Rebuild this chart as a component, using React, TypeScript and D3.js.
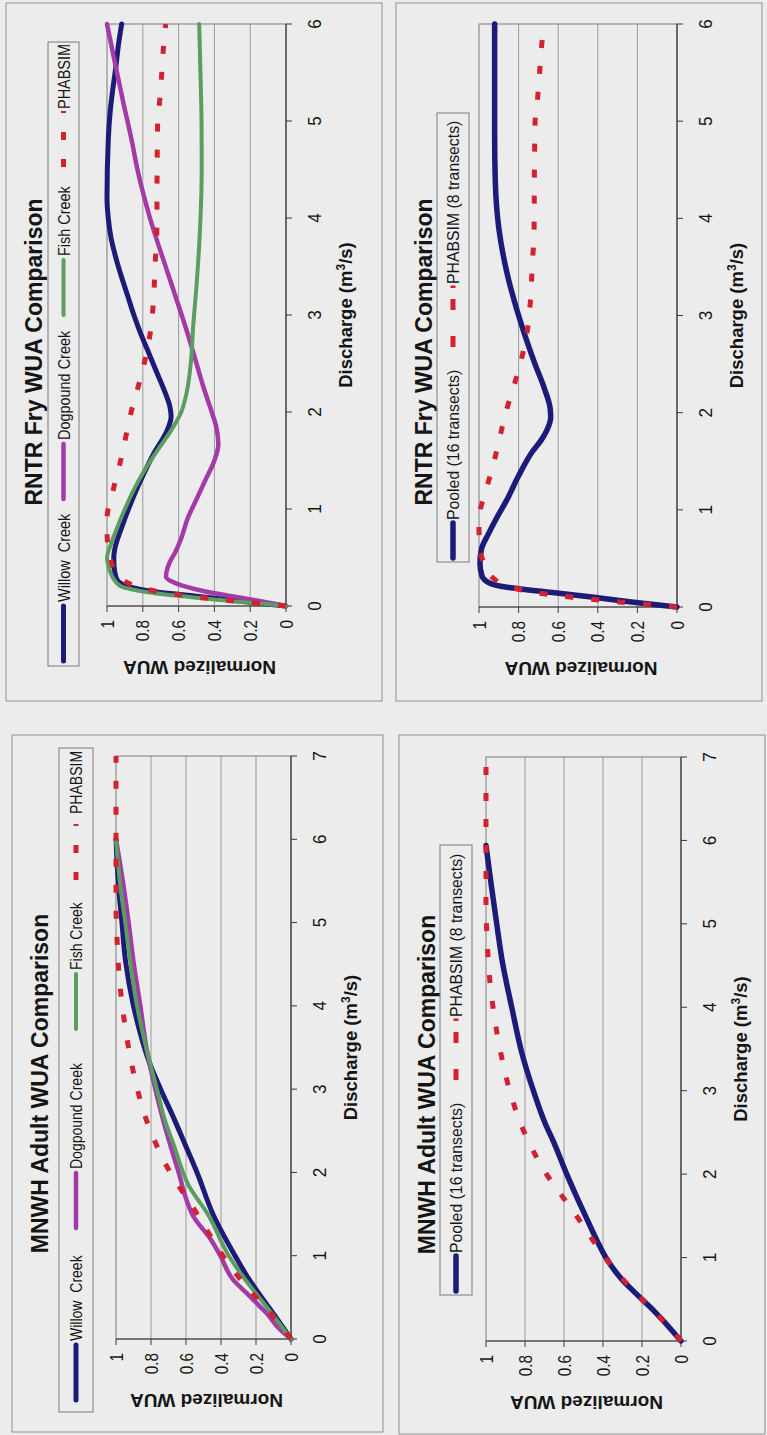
import React from 'react';
import * as d3 from 'd3';

type Pt = [number, number];

// [discharge m3/s, normalized WUA]

// RNTR Fry, per-creek curves
const rntrWillow: Pt[] = [[0, 0], [0.05, 0.25], [0.1, 0.5], [0.15, 0.74], [0.2, 0.88], [0.25, 0.935], [0.3, 0.95], [0.4, 0.96], [0.5, 0.962], [0.6, 0.955], [0.8, 0.92], [1.0, 0.88], [1.2, 0.835], [1.4, 0.785], [1.6, 0.73], [1.75, 0.68], [1.85, 0.655], [1.95, 0.642], [2.05, 0.648], [2.2, 0.675], [2.4, 0.72], [2.6, 0.765], [2.8, 0.81], [3.0, 0.85], [3.2, 0.885], [3.4, 0.92], [3.6, 0.952], [3.8, 0.978], [4.0, 0.993], [4.2, 1.0], [4.8, 0.993], [5.1, 0.982], [5.35, 0.966], [5.55, 0.951], [5.8, 0.935], [6.0, 0.918]];
const rntrDogpound: Pt[] = [[0, 0], [0.05, 0.14], [0.1, 0.3], [0.15, 0.45], [0.2, 0.56], [0.25, 0.635], [0.3, 0.67], [0.35, 0.668], [0.45, 0.65], [0.55, 0.62], [0.7, 0.585], [0.9, 0.55], [1.1, 0.5], [1.3, 0.45], [1.5, 0.4], [1.67, 0.378], [1.85, 0.39], [2.0, 0.415], [2.25, 0.46], [2.5, 0.5], [2.84, 0.555], [3.0, 0.583], [3.43, 0.66], [4.0, 0.76], [4.5, 0.83], [4.8, 0.862], [5.2, 0.91], [5.55, 0.95], [6.0, 1.0]];
const rntrFish: Pt[] = [[0, 0], [0.05, 0.3], [0.1, 0.58], [0.15, 0.8], [0.2, 0.92], [0.3, 0.97], [0.4, 0.99], [0.5, 1.0], [0.6, 0.985], [0.8, 0.945], [1.0, 0.9], [1.2, 0.85], [1.4, 0.79], [1.6, 0.72], [1.8, 0.645], [2.0, 0.585], [2.2, 0.555], [2.5, 0.532], [2.9, 0.518], [3.3, 0.5], [3.9, 0.48], [4.5, 0.471], [5.0, 0.472], [5.5, 0.478], [6.0, 0.485]];
const rntrPhabsim: Pt[] = [[0, 0], [0.05, 0.28], [0.1, 0.53], [0.15, 0.72], [0.2, 0.83], [0.3, 0.93], [0.45, 0.975], [0.6, 0.995], [0.8, 1.0], [0.9, 1.0], [1.2, 0.965], [1.45, 0.93], [1.7, 0.9], [2.0, 0.865], [2.3, 0.82], [2.6, 0.78], [2.87, 0.754], [3.13, 0.741], [3.56, 0.73], [3.84, 0.722], [4.5, 0.72], [4.98, 0.717], [5.24, 0.704], [5.5, 0.694], [5.7, 0.687], [6.0, 0.672]];
// RNTR Fry, pooled
const rntrPooled: Pt[] = [[0, 0], [0.05, 0.22], [0.1, 0.42], [0.15, 0.63], [0.2, 0.85], [0.25, 0.95], [0.32, 0.985], [0.45, 0.995], [0.6, 0.987], [0.75, 0.953], [0.9, 0.915], [1.1, 0.86], [1.35, 0.8], [1.6, 0.73], [1.72, 0.685], [1.82, 0.657], [1.95, 0.638], [2.05, 0.641], [2.25, 0.67], [2.5, 0.717], [3.0, 0.8], [3.45, 0.86], [3.9, 0.9], [4.4, 0.918], [4.85, 0.921], [6.0, 0.921]];

// MNWH Adult, per-creek curves
const mnwhWillow: Pt[] = [[0, 0], [0.36, 0.12], [0.52, 0.175], [0.75, 0.25], [1.0, 0.32], [1.48, 0.442], [2.0, 0.537], [2.33, 0.604], [2.61, 0.661], [3.0, 0.745], [3.29, 0.804], [3.74, 0.87], [4.0, 0.9], [4.53, 0.945], [5.0, 0.966], [5.43, 0.985], [6.0, 1.0]];
const mnwhDogpound: Pt[] = [[0, 0], [0.13, 0.07], [0.31, 0.139], [0.43, 0.196], [0.55, 0.253], [0.71, 0.33], [1.0, 0.404], [1.2, 0.46], [1.48, 0.56], [1.65, 0.594], [2.0, 0.642], [2.33, 0.69], [2.61, 0.728], [3.0, 0.775], [3.46, 0.823], [4.0, 0.861], [4.53, 0.9], [5.0, 0.928], [5.43, 0.956], [6.0, 1.0]];
const mnwhFish: Pt[] = [[0, 0], [0.36, 0.13], [0.58, 0.213], [0.75, 0.275], [1.0, 0.356], [1.48, 0.47], [1.88, 0.594], [2.0, 0.617], [2.33, 0.67], [2.61, 0.718], [3.0, 0.766], [3.46, 0.823], [4.0, 0.88], [4.53, 0.918], [5.0, 0.947], [5.43, 0.975], [6.0, 1.0]];
const mnwhPhabsim: Pt[] = [[0, 0], [0.2, 0.075], [0.36, 0.14], [0.58, 0.232], [0.81, 0.325], [1.0, 0.39], [1.2, 0.45], [1.48, 0.53], [1.77, 0.62], [2.0, 0.69], [2.27, 0.756], [2.61, 0.823], [3.0, 0.878], [3.46, 0.925], [4.0, 0.964], [4.36, 0.982], [4.75, 0.993], [5.26, 1.0], [7.0, 1.0]];
// MNWH Adult, pooled
const mnwhPooled: Pt[] = [[0, 0], [0.34, 0.13], [0.58, 0.236], [0.73, 0.3], [1.0, 0.385], [1.2, 0.43], [1.5, 0.49], [1.77, 0.543], [2.0, 0.586], [2.39, 0.654], [2.61, 0.697], [3.0, 0.757], [3.46, 0.817], [4.0, 0.868], [4.53, 0.915], [5.0, 0.945], [5.43, 0.971], [5.94, 1.0]];

const wuaTicks = [0, 0.2, 0.4, 0.6, 0.8, 1];

const FONT = "'Liberation Sans', Arial, Helvetica, sans-serif";
const NAVY = '#1d1b78';
const MAGENTA = '#a33aa8';
const GREEN = '#5a9d5e';
const RED = '#d3222f';

type Series = { name: string; data: Pt[]; color: string; width: number; dashed?: boolean };
type LegendItem = { m0: number; m1: number; t: number; dash?: string };
type Panel = {
  title: string;
  // border of the panel on the (rotated) page, image pixels
  bx0: number; bx1: number; by0: number; by1: number;
  // plot area in the chart's own frame (u = along discharge, v = down)
  u0: number; u1: number; vTop: number; vBot: number;
  qMax: number;
  series: Series[];
  legend: { u0: number; u1: number; v0: number; v1: number; size: number; squeeze: number; items: LegendItem[] };
};

const panels: Panel[] = [
  {
    title: 'RNTR Fry WUA Comparison',
    bx0: 6, bx1: 382, by0: 3, by1: 701,
    u0: 95, u1: 677, vTop: 101, vBot: 280, qMax: 6,
    series: [
      { name: 'Willow  Creek', data: rntrWillow, color: NAVY, width: 5 },
      { name: 'Dogpound Creek', data: rntrDogpound, color: MAGENTA, width: 4.5 },
      { name: 'Fish Creek', data: rntrFish, color: GREEN, width: 4 },
      { name: 'PHABSIM', data: rntrPhabsim, color: RED, width: 5, dashed: true },
    ],
    legend: {
      u0: 35, u1: 659, v0: 42, v1: 73, size: 17, squeeze: 0.85,
      items: [{ m0: 40, m1: 95, t: 99 }, { m0: 202, m1: 257, t: 261 }, { m0: 386, m1: 441, t: 445 }, { m0: 534, m1: 590, t: 592 }],
    },
  },
  {
    title: 'RNTR Fry WUA Comparison',
    bx0: 396, bx1: 762, by0: 3, by1: 701,
    u0: 94, u1: 677, vTop: 83, vBot: 281, qMax: 6,
    series: [
      { name: 'Pooled (16 transects)', data: rntrPooled, color: NAVY, width: 5.5 },
      { name: 'PHABSIM (8 transects)', data: rntrPhabsim, color: RED, width: 5, dashed: true },
    ],
    legend: {
      u0: 139, u1: 588, v0: 41, v1: 73, size: 17, squeeze: 0.93,
      items: [{ m0: 143, m1: 178, t: 181 }, { m0: 354, m1: 415.5, t: 417, dash: '11 26 11 11' }],
    },
  },
  {
    title: 'MNWH Adult WUA Comparison',
    bx0: 12, bx1: 383, by0: 735, by1: 1432,
    u0: 93, u1: 676, vTop: 104, vBot: 279, qMax: 7,
    series: [
      { name: 'Willow  Creek', data: mnwhWillow, color: NAVY, width: 5 },
      { name: 'Dogpound Creek', data: mnwhDogpound, color: MAGENTA, width: 4.5 },
      { name: 'Fish Creek', data: mnwhFish, color: GREEN, width: 4 },
      { name: 'PHABSIM', data: mnwhPhabsim, color: RED, width: 5, dashed: true },
    ],
    legend: {
      u0: 20, u1: 684, v0: 47, v1: 81, size: 16.5, squeeze: 0.85,
      items: [{ m0: 32, m1: 87, t: 91 }, { m0: 204, m1: 259, t: 263 }, { m0: 403, m1: 458, t: 462 }, { m0: 552, m1: 608, t: 618 }],
    },
  },
  {
    title: 'MNWH Adult WUA Comparison',
    bx0: 399, bx1: 765, by0: 735, by1: 1434,
    u0: 93, u1: 677, vTop: 87, vBot: 282, qMax: 7,
    series: [
      { name: 'Pooled (16 transects)', data: mnwhPooled, color: NAVY, width: 5.5 },
      { name: 'PHABSIM (8 transects)', data: mnwhPhabsim, color: RED, width: 5, dashed: true },
    ],
    legend: {
      u0: 139, u1: 589, v0: 41, v1: 73, size: 17, squeeze: 0.93,
      items: [{ m0: 143, m1: 178, t: 181 }, { m0: 354, m1: 415.5, t: 417, dash: '11 26 11 11' }],
    },
  },
];

const CURVE_DASH = '8 18';

function ChartPanel({ p }: { p: Panel }) {
  const W = p.by1 - p.by0;
  const H = p.bx1 - p.bx0;
  const x = d3.scaleLinear().domain([0, p.qMax]).range([p.u0, p.u1]);
  const y = d3.scaleLinear().domain([0, 1]).range([p.vBot, p.vTop]);
  const line = d3.line<Pt>().x(d => x(d[0])).y(d => y(d[1])).curve(d3.curveMonotoneX);
  const qTicks = x.ticks(p.qMax);
  const midU = (p.u0 + p.u1) / 2;
  const midV = (p.vTop + p.vBot) / 2;
  const lg = p.legend;
  const lgMid = (lg.v0 + lg.v1) / 2;

  return (
    // the whole page is turned a quarter turn counter-clockwise
    <g transform={`translate(${p.bx0},${p.by1}) rotate(-90)`} fontFamily={FONT} fill="#151515">
      <rect x={0} y={0} width={W} height={H} fill="none" stroke="#8e8e8e" strokeWidth={1} />

      <text x={W / 2} y={36} textAnchor="middle" fontWeight="bold" fontSize={23}>{p.title}</text>

      {/* legend */}
      <rect x={lg.u0} y={lg.v0} width={lg.u1 - lg.u0} height={lg.v1 - lg.v0} fill="none" stroke="#7a7a7a" strokeWidth={1} />
      {p.series.map((s, i) => {
        const it = lg.items[i];
        return (
          <g key={s.name}>
            <line x1={it.m0} x2={it.m1} y1={lgMid} y2={lgMid} stroke={s.color}
              strokeWidth={s.dashed ? 5 : s.width}
              strokeDasharray={s.dashed ? (it.dash || '8 19') : undefined}
              strokeLinecap={s.dashed ? 'butt' : 'round'} />
            <text transform={`translate(${it.t},${lgMid + 6}) scale(${lg.squeeze},1)`} fontSize={lg.size}
              style={{ whiteSpace: 'pre' }}>{s.name}</text>
          </g>
        );
      })}

      {/* gridlines */}
      {wuaTicks.filter(t => t > 0 && t < 1).map(t => (
        <line key={t} x1={p.u0} x2={p.u1} y1={y(t)} y2={y(t)} stroke="#9a9a9a" strokeWidth={1} />
      ))}
      <rect x={p.u0} y={p.vTop} width={p.u1 - p.u0} height={p.vBot - p.vTop} fill="none" stroke="#7a7a7a" strokeWidth={1} />

      {/* axes */}
      <line x1={p.u0} x2={p.u0} y1={p.vTop} y2={p.vBot} stroke="#3a3a3a" strokeWidth={1.2} />
      <line x1={p.u0} x2={p.u1} y1={p.vBot} y2={p.vBot} stroke="#3a3a3a" strokeWidth={1.2} />
      {wuaTicks.map(t => (
        <g key={t}>
          <line x1={p.u0 - 6} x2={p.u0} y1={y(t)} y2={y(t)} stroke="#3a3a3a" strokeWidth={1} />
          <text transform={`translate(${p.u0 - 14},${y(t) + 6.5}) scale(0.85,1)`} textAnchor="end" fontSize={18}>{String(t)}</text>
        </g>
      ))}
      {qTicks.map(t => (
        <g key={t}>
          <line x1={x(t)} x2={x(t)} y1={p.vBot} y2={p.vBot + 6} stroke="#3a3a3a" strokeWidth={1} />
          <text transform={`translate(${x(t)},${p.vBot + 35}) scale(0.9,1)`} textAnchor="middle" fontSize={19}>{String(t)}</text>
        </g>
      ))}

      {/* curves */}
      {p.series.map(s => (
        <path key={s.name} d={line(s.data) || ''} fill="none" stroke={s.color} strokeWidth={s.width}
          strokeDasharray={s.dashed ? CURVE_DASH : undefined}
          strokeLinejoin="round" strokeLinecap={s.dashed ? 'butt' : 'round'} />
      ))}

      {/* axis titles */}
      <text x={midU} y={p.vBot + 66} textAnchor="middle" fontWeight="bold" fontSize={18.5}>
        <tspan>Discharge (m</tspan>
        <tspan dy={-7} fontSize={12}>3</tspan>
        <tspan dy={7}>/s)</tspan>
      </text>
      <text transform={`translate(${p.u0 - 55},${midV + 3}) rotate(-90)`} textAnchor="middle" fontWeight="bold" fontSize={19}>
        Normalized WUA
      </text>
    </g>
  );
}

export default function App() {
  return (
    <svg width={767} height={1435} viewBox="0 0 767 1435"
      style={{ position: 'absolute', left: 0, top: 0, display: 'block', background: '#ececec' }}>
      <rect x={0} y={0} width={767} height={1435} fill="#ececec" />
      {panels.map((p, i) => <ChartPanel key={i} p={p} />)}
    </svg>
  );
}
